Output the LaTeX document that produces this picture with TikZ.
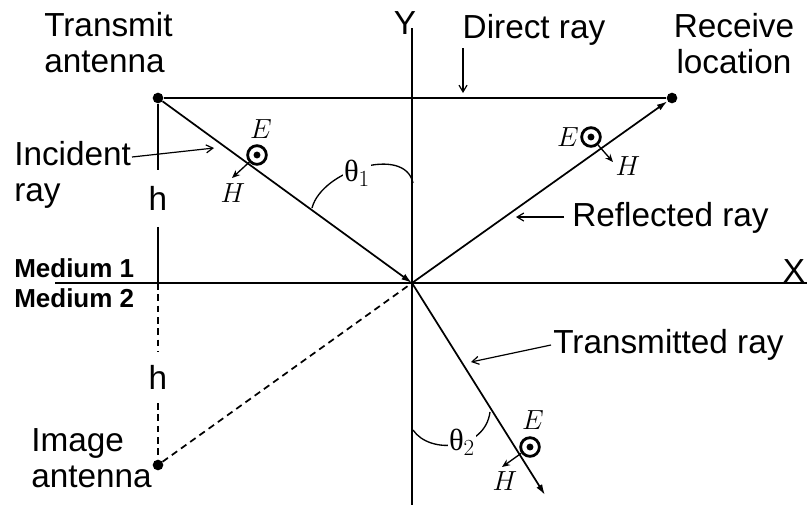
\documentclass[tikz,border=0pt]{standalone}
\usepackage{fontspec}
\setmainfont{Liberation Sans}
\newfontfamily\grk{Liberation Serif}
\usetikzlibrary{arrows.meta}
\begin{document}
\begin{tikzpicture}[x=0.75pt,y=-0.75pt,
  ln/.style={line width=1.3pt},
  thinln/.style={line width=0.9pt},
  dot/.style={circle,fill=black,inner sep=0pt,minimum size=8pt},
  lbl/.style={font=\fontsize{25}{27}\selectfont, inner sep=0pt},
  med/.style={font=\bfseries\fontsize{19.5}{21}\selectfont, inner sep=0pt, anchor=west},
  ray/.style={ln,-{Latex[length=8pt,width=5pt]}},
  ptr/.style={thinln,-{Straight Barb[length=5pt,width=6pt]}},
  mth/.style={font=\fontsize{20}{20}\selectfont, inner sep=0pt},
  hlab/.style={lbl,fill=white,inner xsep=1pt},
  ang/.style={line width=1pt},
  esym/.style={circle,draw,line width=2.1pt,minimum size=14pt,inner sep=0pt},
  harr/.style={line width=1pt,-{Stealth[length=6pt,width=5pt]}},
  thlab/.style={font=\fontsize{23}{23}\selectfont,fill=white,inner sep=1pt},
]
\useasboundingbox (0,0) rectangle (807,508);

% points
\coordinate (O) at (412,283);
\node[dot] (tx) at (158,98) {};
\node[dot] (rx) at (672,98) {};
\node[dot] (img) at (158,465) {};
\coordinate (F) at (158,283);
\coordinate (Ytop) at (412,28);
\coordinate (Ybot) at (412,505);
\coordinate (Xl) at (55,283);
\coordinate (Xr) at (807,283);
\coordinate (T) at (545,495);

% axes
\draw[ln] (Ytop) -- (Ybot);
\draw[ln] (Xl) -- (Xr);
\node[lbl] (Ylab) at (405,23) {Y};
\node[lbl] (Xlab) at (794,271) {X};

% rays
\draw[ln] (tx) -- (rx);
\draw[ray] (tx) -- (O);
\draw[ray] (O) -- (rx);
\draw[ray] (O) -- (T);
\draw[ln,dash pattern=on 5pt off 3.5pt] (img) -- (O);

% heights
\node[hlab,minimum height=42pt] (h1) at (158,198.5) {h};
\node[hlab,minimum height=38pt] (h2) at (158,377.5) {h};
\draw[ln] (tx) -- (h1.north);
\draw[ln] (h1.south) -- (F);
\draw[ln,dash pattern=on 5pt off 3.5pt] (F) -- (h2.north);
\draw[ln,dash pattern=on 5pt off 3.5pt] (h2.south) -- (img);

% angles
\draw[ang] (312,208) .. controls (322,170) and (405,145) .. (413,183);
\node[thlab] (th1) at (357,173) {{\grk θ}$_1$};
\draw[ang] (413,430) .. controls (430,455) and (485,450) .. (490,412);
\node[thlab] (th2) at (462,442) {{\grk θ}$_2$};

% text labels
\node[lbl,align=left,anchor=north west] (txl) at (44,12) {Transmit\\antenna};
\node[lbl,align=center] (rxl) at (734,44) {Receive\\location};
\node[lbl,align=left,anchor=north west] (iml) at (31,428) {Image\\antenna};
\node[lbl,align=left,anchor=north west] (inl) at (14,141) {Incident\\ray};
\node[med] (m1) at (14,268) {Medium 1};
\node[med] (m2) at (14,298) {Medium 2};

\node[lbl] (dl) at (534,30) {Direct ray};
\coordinate (dA) at (463,48);
\coordinate (dB) at (463,93);
\draw[ptr] (dA) -- (dB);

\coordinate (iA) at (132,157);
\coordinate (iB) at (214,148);
\draw[ptr] (iA) -- (iB);

\node[lbl,anchor=west] (rl) at (572,218) {Reflected ray};
\coordinate (rA) at (564,217);
\coordinate (rB) at (516,217);
\draw[ptr] (rA) -- (rB);

\node[lbl,anchor=west] (tl) at (553,345) {Transmitted ray};
\coordinate (tA) at (551,345);
\coordinate (tB) at (471,362);
\draw[ptr] (tA) -- (tB);

% E / H symbols
\node[esym] (e1) at (257,155) {};
\fill (e1.center) circle (2.6pt);
\node[mth] (E1) at (261,129) {$E$};
\coordinate (h1t) at (232,178);
\draw[harr] (e1) -- (h1t);
\node[mth] (H1) at (233,193) {$H$};

\node[esym] (e2) at (591,137) {};
\fill (e2.center) circle (2.6pt);
\node[mth] (E2) at (568,137) {$E$};
\coordinate (h2t) at (613,162);
\draw[harr] (e2) -- (h2t);
\node[mth] (H2) at (628,166) {$H$};

\node[esym] (e3) at (530,447) {};
\fill (e3.center) circle (2.6pt);
\node[mth] (E3) at (533,420) {$E$};
\coordinate (h3t) at (502,467);
\draw[harr] (e3) -- (h3t);
\node[mth] (H3) at (505,481) {$H$};
\end{tikzpicture}
\end{document}
